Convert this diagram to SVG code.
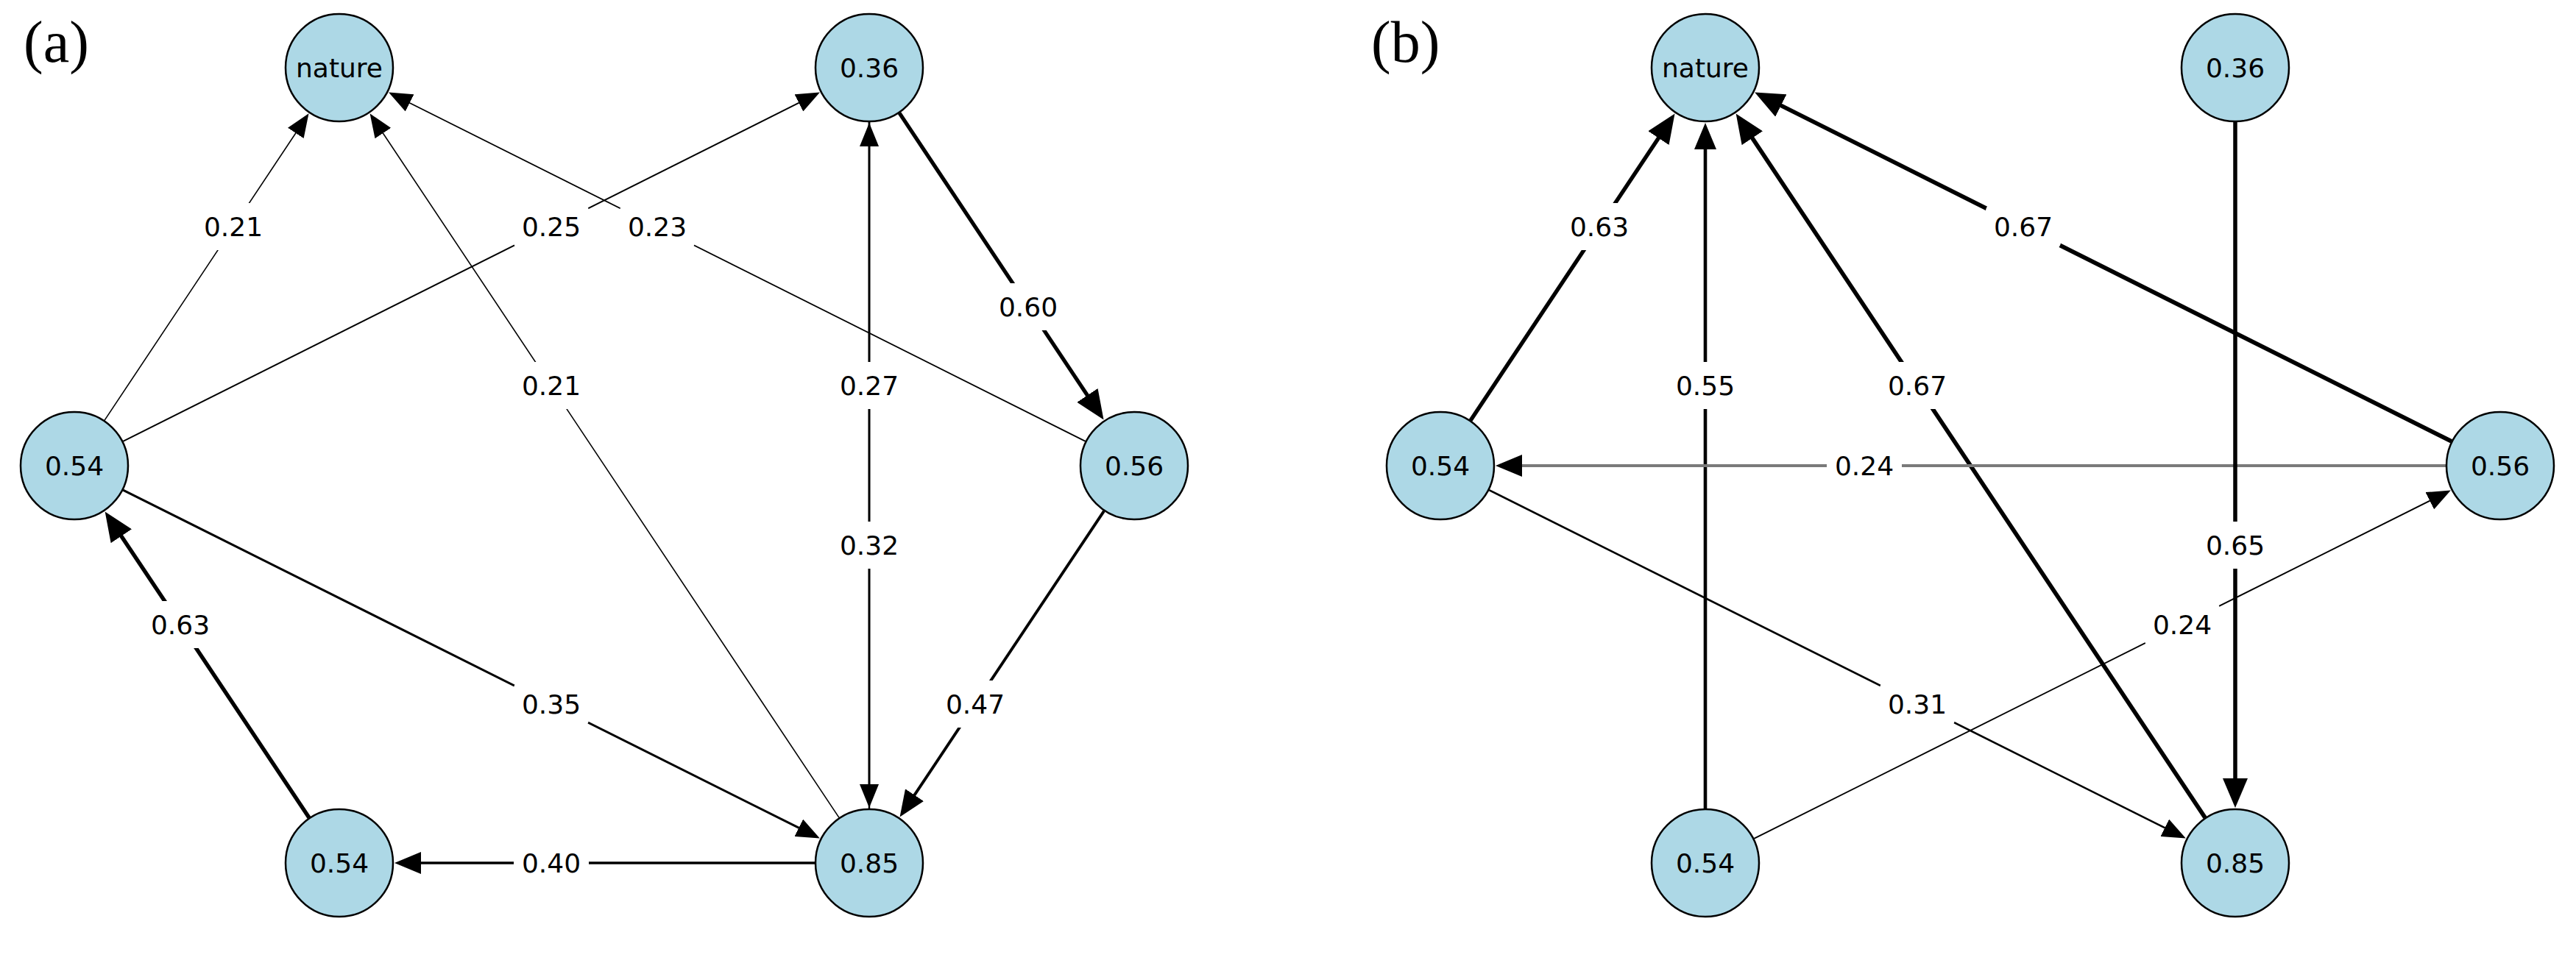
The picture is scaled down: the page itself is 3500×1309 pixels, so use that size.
<svg xmlns="http://www.w3.org/2000/svg" width="3500" height="1309" viewBox="0 0 3500 1309">
<style>
.bg{fill:#ffffff}
.panel{font-family:"Liberation Serif","Times New Roman",serif;font-size:80px;fill:#000}
.node circle{fill:#add8e6;stroke:#000;stroke-width:2.5}
.node text{font-family:"DejaVu Sans","Liberation Sans",sans-serif;font-size:36px;fill:#000;text-anchor:middle}
.edges line{stroke:#000;fill:none;stroke-linecap:butt}
.edges line.gray{stroke:#7a7a7a}
.elabel rect{fill:#fff;stroke:none}
.elabel text{font-family:"DejaVu Sans","Liberation Sans",sans-serif;font-size:36px;fill:#000;text-anchor:middle}
</style>
<defs>
<marker id="hs" markerUnits="userSpaceOnUse" markerWidth="32" markerHeight="26" viewBox="0 0 32 26" refX="6" refY="13" orient="auto"><path d="M0,0L32,13L0,26z" fill="#000"/></marker>
<marker id="hm" markerUnits="userSpaceOnUse" markerWidth="36" markerHeight="30" viewBox="0 0 36 30" refX="6" refY="15" orient="auto"><path d="M0,0L36,15L0,30z" fill="#000"/></marker>
<marker id="hl" markerUnits="userSpaceOnUse" markerWidth="40" markerHeight="34" viewBox="0 0 40 34" refX="6" refY="17" orient="auto"><path d="M0,0L40,17L0,34z" fill="#000"/></marker>
</defs>
<rect class="bg" x="0" y="0" width="3500" height="1309"/>
<text class="panel" x="32" y="84">(a)</text>
<text class="panel" x="1863" y="84">(b)</text>

<g id="connectors" class="edges">
<!-- panel a -->
<line x1="142.0" y1="571.4" x2="405.1" y2="176.0" stroke-width="1.6" marker-end="url(#hs)"/>
<line x1="167.2" y1="599.9" x2="1090.7" y2="137.2" stroke-width="2" marker-end="url(#hs)"/>
<line x1="1474.8" y1="599.9" x2="551.3" y2="137.2" stroke-width="1.8" marker-end="url(#hs)"/>
<line x1="1140.0" y1="1111.4" x2="517.0" y2="176.0" stroke-width="1.6" marker-end="url(#hs)"/>
<line x1="1222.0" y1="153.6" x2="1480.7" y2="542.3" stroke-width="5.2" marker-end="url(#hl)"/>
<line x1="1181" y1="1099" x2="1181" y2="193" stroke-width="2.4" marker-end="url(#hs)"/>
<line x1="1181" y1="166" x2="1181" y2="1072" stroke-width="2.8" marker-end="url(#hs)"/>
<line x1="1500.0" y1="694.6" x2="1239.2" y2="1085.6" stroke-width="3.9" marker-end="url(#hm)"/>
<line x1="167.2" y1="666.1" x2="1090.6" y2="1127.9" stroke-width="3" marker-end="url(#hs)"/>
<line x1="420.0" y1="1111.4" x2="161.5" y2="723.7" stroke-width="5.4" marker-end="url(#hl)"/>
<line x1="1107" y1="1173" x2="566" y2="1173" stroke-width="3.4" marker-end="url(#hm)"/>
<!-- panel b -->
<line x1="1998.0" y1="571.4" x2="2256.7" y2="182.7" stroke-width="5.4" marker-end="url(#hl)"/>
<line x1="2317" y1="1099" x2="2317" y2="197" stroke-width="4.6" marker-end="url(#hm)"/>
<line x1="2996.0" y1="1111.4" x2="2377.5" y2="182.7" stroke-width="5.7" marker-end="url(#hl)"/>
<line x1="3330.8" y1="599.9" x2="2414.5" y2="140.8" stroke-width="5.7" marker-end="url(#hl)"/>
<line class="gray" x1="3323" y1="633" x2="2062" y2="633" stroke-width="4" marker-end="url(#hm)"/>
<line x1="3037" y1="166" x2="3037" y2="1064" stroke-width="5.5" marker-end="url(#hl)"/>
<line x1="2383.2" y1="1139.9" x2="3306.6" y2="678.1" stroke-width="1.9" marker-end="url(#hs)"/>
<line x1="2023.2" y1="666.1" x2="2946.6" y2="1127.9" stroke-width="2.6" marker-end="url(#hs)"/>
</g>

<g id="node-a-nature" class="node"><circle cx="461" cy="92" r="73"/><text x="461" y="105">nature</text></g>
<g id="node-a-036" class="node"><circle cx="1181" cy="92" r="73"/><text x="1181" y="105">0.36</text></g>
<g id="node-a-054-left" class="node"><circle cx="101" cy="633" r="73"/><text x="101" y="646">0.54</text></g>
<g id="node-a-056" class="node"><circle cx="1541" cy="633" r="73"/><text x="1541" y="646">0.56</text></g>
<g id="node-a-054-bottom" class="node"><circle cx="461" cy="1173" r="73"/><text x="461" y="1186">0.54</text></g>
<g id="node-a-085" class="node"><circle cx="1181" cy="1173" r="73"/><text x="1181" y="1186">0.85</text></g>

<g id="node-b-nature" class="node"><circle cx="2317" cy="92" r="73"/><text x="2317" y="105">nature</text></g>
<g id="node-b-036" class="node"><circle cx="3037" cy="92" r="73"/><text x="3037" y="105">0.36</text></g>
<g id="node-b-054-left" class="node"><circle cx="1957" cy="633" r="73"/><text x="1957" y="646">0.54</text></g>
<g id="node-b-056" class="node"><circle cx="3397" cy="633" r="73"/><text x="3397" y="646">0.56</text></g>
<g id="node-b-054-bottom" class="node"><circle cx="2317" cy="1173" r="73"/><text x="2317" y="1186">0.54</text></g>
<g id="node-b-085" class="node"><circle cx="3037" cy="1173" r="73"/><text x="3037" y="1186">0.85</text></g>

<g id="edge-labels" class="elabel">
<rect x="266" y="276" width="102" height="64" rx="11"/><text x="317" y="321">0.21</text>
<rect x="698" y="276" width="102" height="64" rx="11"/><text x="749" y="321">0.25</text>
<rect x="842" y="276" width="102" height="64" rx="11"/><text x="893" y="321">0.23</text>
<rect x="698" y="492" width="102" height="64" rx="11"/><text x="749" y="537">0.21</text>
<rect x="1346" y="385" width="102" height="64" rx="11"/><text x="1397" y="430">0.60</text>
<rect x="1130" y="492" width="102" height="64" rx="11"/><text x="1181" y="537">0.27</text>
<rect x="1130" y="709" width="102" height="64" rx="11"/><text x="1181" y="754">0.32</text>
<rect x="1274" y="925" width="102" height="64" rx="11"/><text x="1325" y="970">0.47</text>
<rect x="698" y="925" width="102" height="64" rx="11"/><text x="749" y="970">0.35</text>
<rect x="194" y="817" width="102" height="64" rx="11"/><text x="245" y="862">0.63</text>
<rect x="698" y="1141" width="102" height="64" rx="11"/><text x="749" y="1186">0.40</text>

<rect x="2122" y="276" width="102" height="64" rx="11"/><text x="2173" y="321">0.63</text>
<rect x="2266" y="492" width="102" height="64" rx="11"/><text x="2317" y="537">0.55</text>
<rect x="2554" y="492" width="102" height="64" rx="11"/><text x="2605" y="537">0.67</text>
<rect x="2698" y="276" width="102" height="64" rx="11"/><text x="2749" y="321">0.67</text>
<rect x="2482" y="601" width="102" height="64" rx="11"/><text x="2533" y="646">0.24</text>
<rect x="2986" y="709" width="102" height="64" rx="11"/><text x="3037" y="754">0.65</text>
<rect x="2914" y="817" width="102" height="64" rx="11"/><text x="2965" y="862">0.24</text>
<rect x="2554" y="925" width="102" height="64" rx="11"/><text x="2605" y="970">0.31</text>
</g>
</svg>
